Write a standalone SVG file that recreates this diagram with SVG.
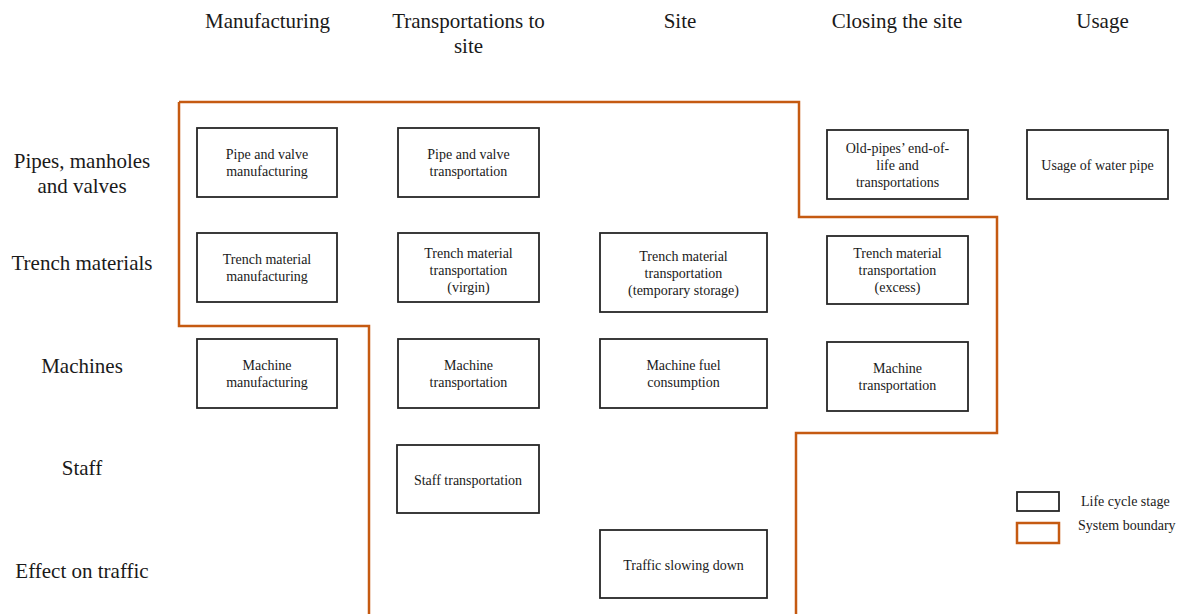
<svg xmlns="http://www.w3.org/2000/svg" width="1185" height="614" viewBox="0 0 1185 614">
<style>
.bg{fill:#fff}
.box{fill:#fff;stroke:#262626;stroke-width:1.8}
.bnd{fill:none;stroke:#C55A11;stroke-width:2.5}
.t{font-family:"Liberation Serif","Times New Roman",serif;font-size:14px;fill:#1a1a1a;text-anchor:middle}
.h{font-family:"Liberation Serif","Times New Roman",serif;font-size:21px;fill:#1a1a1a;text-anchor:middle}
.lg{font-family:"Liberation Serif","Times New Roman",serif;font-size:14px;fill:#1a1a1a}
</style>
<rect class="bg" x="0" y="0" width="1185" height="614"/>

<g id="headers">
<text class="h" x="267.5" y="28">Manufacturing</text>
<text class="h" x="468.5" y="28">Transportations to</text>
<text class="h" x="468.5" y="53">site</text>
<text class="h" x="680" y="28">Site</text>
<text class="h" x="897" y="28">Closing the site</text>
<text class="h" x="1102.5" y="28">Usage</text>
</g>

<g id="row-labels">
<text class="h" x="82" y="168">Pipes, manholes</text>
<text class="h" x="82" y="193">and valves</text>
<text class="h" x="82" y="270">Trench materials</text>
<text class="h" x="82" y="373">Machines</text>
<text class="h" x="82" y="475">Staff</text>
<text class="h" x="82" y="578">Effect on traffic</text>
</g>

<g id="connectors">
<path id="system-boundary" class="bnd" d="M179,102 L799,102 L799,217 L997,217 L997,433 L796,433 L796,614 M179,102 L179,326 L369,326 L369,614"/>
</g>

<g id="pipe-valve-manufacturing">
<rect class="box" x="197" y="128" width="140" height="69"/>
<text class="t" x="267" y="159">Pipe and valve</text>
<text class="t" x="267" y="176">manufacturing</text>
</g>
<g id="pipe-valve-transportation">
<rect class="box" x="398" y="128" width="141" height="69"/>
<text class="t" x="468.5" y="159">Pipe and valve</text>
<text class="t" x="468.5" y="176">transportation</text>
</g>
<g id="old-pipes-eol">
<rect class="box" x="827" y="130" width="141" height="69"/>
<text class="t" x="897.5" y="152.5">Old-pipes’ end-of-</text>
<text class="t" x="897.5" y="169.5">life and</text>
<text class="t" x="897.5" y="186.5">transportations</text>
</g>
<g id="usage-water-pipe">
<rect class="box" x="1027" y="130" width="141" height="69"/>
<text class="t" x="1097.5" y="169.5">Usage of water pipe</text>
</g>

<g id="trench-manufacturing">
<rect class="box" x="197" y="233" width="140" height="69"/>
<text class="t" x="267" y="264">Trench material</text>
<text class="t" x="267" y="281">manufacturing</text>
</g>
<g id="trench-transport-virgin">
<rect class="box" x="398" y="233" width="141" height="69"/>
<text class="t" x="468.5" y="257.5">Trench material</text>
<text class="t" x="468.5" y="274.5">transportation</text>
<text class="t" x="468.5" y="291.5">(virgin)</text>
</g>
<g id="trench-transport-temporary">
<rect class="box" x="600" y="233" width="167" height="79"/>
<text class="t" x="683.5" y="260.5">Trench material</text>
<text class="t" x="683.5" y="277.5">transportation</text>
<text class="t" x="683.5" y="294.5">(temporary storage)</text>
</g>
<g id="trench-transport-excess">
<rect class="box" x="827" y="236" width="141" height="68"/>
<text class="t" x="897.5" y="258">Trench material</text>
<text class="t" x="897.5" y="275">transportation</text>
<text class="t" x="897.5" y="292">(excess)</text>
</g>

<g id="machine-manufacturing">
<rect class="box" x="197" y="339" width="140" height="69"/>
<text class="t" x="267" y="370">Machine</text>
<text class="t" x="267" y="387">manufacturing</text>
</g>
<g id="machine-transportation">
<rect class="box" x="398" y="339" width="141" height="69"/>
<text class="t" x="468.5" y="370">Machine</text>
<text class="t" x="468.5" y="387">transportation</text>
</g>
<g id="machine-fuel">
<rect class="box" x="600" y="339" width="167" height="69"/>
<text class="t" x="683.5" y="370">Machine fuel</text>
<text class="t" x="683.5" y="387">consumption</text>
</g>
<g id="machine-transportation-closing">
<rect class="box" x="827" y="342" width="141" height="69"/>
<text class="t" x="897.5" y="373">Machine</text>
<text class="t" x="897.5" y="390">transportation</text>
</g>

<g id="staff-transportation">
<rect class="box" x="397" y="445" width="142" height="68"/>
<text class="t" x="468" y="485">Staff transportation</text>
</g>

<g id="traffic-slowing">
<rect class="box" x="600" y="530" width="167" height="68"/>
<text class="t" x="683.5" y="570">Traffic slowing down</text>
</g>

<g id="legend">
<rect class="box" x="1017" y="492" width="42" height="19"/>
<text class="lg" x="1081" y="506">Life cycle stage</text>
<rect class="bnd" x="1017" y="523" width="42" height="20"/>
<text class="lg" x="1078" y="530">System boundary</text>
</g>
</svg>
